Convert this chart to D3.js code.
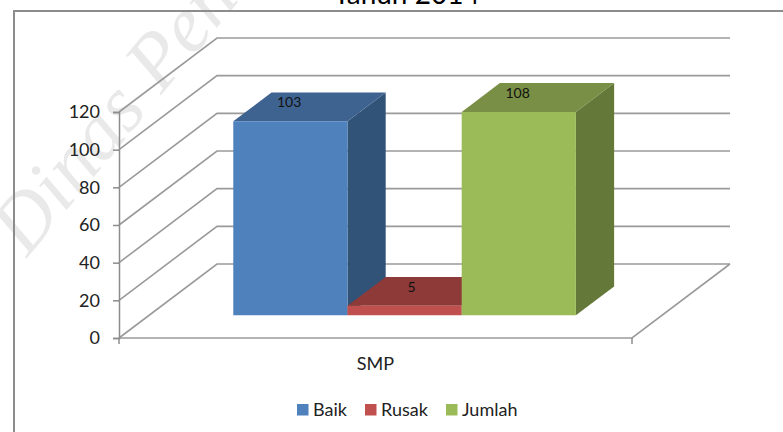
<!DOCTYPE html>
<meta charset="utf-8">
<script src="https://d3js.org/d3.v7.min.js"></script>
<style>
  html, body { margin: 0; padding: 0; background: #fff; overflow: hidden; }
  text { font-family: Lato, sans-serif; }
</style>
<body>
<div id="my_dataviz"></div>
<script>

// values
var categories = ["SMP"]
var series = ["Baik", "Rusak", "Jumlah"]
var values = [103, 5, 108]
var yTicks = [0, 20, 40, 60, 80, 100, 120]

var frontColors = ["#4f81bd", "#c0504d", "#9bbb59"]
var topColors = ["#3f6390", "#8e3a38", "#788f45"]
var sideColors = ["#325378", "#7a3230", "#64783a"]

var width = 783
var height = 432

var svg = d3.select("#my_dataviz")
  .append("svg")
    .attr("width", width)
    .attr("height", height)
    .style("display", "block")

// front edge of the floor
var y = d3.scaleLinear().domain([0, 120]).range([338, 112])
var x = d3.scaleBand().domain(series).range([118, 631]).paddingInner(0).paddingOuter(0.746)
var cat = d3.scaleBand().domain(categories).range([119, 632])

// depth: 0 = front of the floor, 1 = back wall
var depthX = d3.scaleLinear().domain([0, 1]).range([0, 98])
var depthY = d3.scaleLinear().domain([0, 1]).range([0, -74])
var barFront = 0.307
var barBack = 0.697

function pt(px, py, d) {
  return [px + depthX(d), py + depthY(d)]
}
function poly(points) {
  return "M" + points.map(function(p) { return p.join(",") }).join("L") + "Z"
}

// watermark behind the chart
svg.append("text")
  .attr("transform", "translate(27,258) rotate(-50.5)")
  .attr("font-size", 80)
  .attr("font-style", "italic")
  .style("font-family", "'Liberation Serif', serif")
  .attr("fill", "#e9e9e9")
  .text("Dinas Pendidikan")

// chart frame, runs off the right and bottom of the picture
svg.append("path")
  .attr("d", "M14,432V11H783")
  .attr("fill", "none")
  .attr("stroke", "#8c8c8c")
  .attr("stroke-width", 2)

// title is cut by the top of the picture
svg.append("text")
  .attr("x", 406.5)
  .attr("y", 4)
  .attr("text-anchor", "middle")
  .attr("font-size", 28)
  .attr("fill", "#000")
  .text("Tahun 2014")

// gridlines: along the wall, then down the side wall
var grid = svg.append("g")
grid.selectAll("path")
  .data(yTicks)
  .enter()
  .append("path")
    .attr("d", function(d) {
      var a = [119, y(d)]
      var b = pt(119, y(d), 1)
      var c = pt(632, y(d), 1)
      return "M" + a + "L" + b + "L" + c
    })
    .attr("fill", "none")
    .attr("stroke", "#9a9a9a")
    .attr("stroke-width", 1.6)

// floor: right edge and front edge
svg.append("path")
  .attr("d", "M" + pt(632, y(0), 1) + "L632," + y(0) + "L119," + y(0))
  .attr("fill", "none")
  .attr("stroke", "#9a9a9a")
  .attr("stroke-width", 1.6)

// value axis
var axis = svg.append("g").attr("transform", "translate(119,0)")
  .call(d3.axisLeft(y).tickValues(yTicks).tickSize(6).tickPadding(13))
axis.select(".domain").attr("stroke", "#8c8c8c").attr("stroke-width", 1.5)
axis.selectAll("line").attr("stroke", "#8c8c8c").attr("stroke-width", 1.5)
axis.selectAll("text")
  .attr("font-size", 18)
  .attr("fill", "#222")
  .style("font-family", "Lato, sans-serif")

// category axis ticks
svg.append("g")
  .selectAll("line")
  .data([119, 632])
  .enter()
  .append("line")
    .attr("x1", function(d) { return d })
    .attr("x2", function(d) { return d })
    .attr("y1", y(0))
    .attr("y2", y(0) + 6)
    .attr("stroke", "#8c8c8c")
    .attr("stroke-width", 1.5)

svg.append("text")
  .attr("x", cat("SMP") + cat.bandwidth() / 2)
  .attr("y", 370)
  .attr("text-anchor", "middle")
  .attr("font-size", 18)
  .attr("fill", "#222")
  .text(categories[0])

// bars, 3d boxes drawn left to right
var bars = svg.selectAll(".bar")
  .data(series.map(function(s, i) { return { name: s, value: values[i], i: i } }))
  .enter()
  .append("g")
    .attr("class", "bar")

function corners(d) {
  var x0 = x(d.name)
  var x1 = x0 + x.bandwidth()
  return { x0: x0, x1: x1, yb: y(0), yt: y(d.value) }
}

// side face
bars.append("path")
  .attr("d", function(d) {
    var c = corners(d)
    return poly([pt(c.x1, c.yb, barFront), pt(c.x1, c.yb, barBack), pt(c.x1, c.yt, barBack), pt(c.x1, c.yt, barFront)])
  })
  .attr("fill", function(d) { return sideColors[d.i] })

// top face
bars.append("path")
  .attr("d", function(d) {
    var c = corners(d)
    return poly([pt(c.x0, c.yt, barFront), pt(c.x1, c.yt, barFront), pt(c.x1, c.yt, barBack), pt(c.x0, c.yt, barBack)])
  })
  .attr("fill", function(d) { return topColors[d.i] })

// front face
bars.append("path")
  .attr("d", function(d) {
    var c = corners(d)
    return poly([pt(c.x0, c.yb, barFront), pt(c.x1, c.yb, barFront), pt(c.x1, c.yt, barFront), pt(c.x0, c.yt, barFront)])
  })
  .attr("fill", function(d) { return frontColors[d.i] })

// value labels sit on the top face
bars.append("text")
  .attr("x", function(d) { return corners(d).x0 + x.bandwidth() / 2 + depthX(barFront) + 11 })
  .attr("y", function(d) { return y(d.value) + depthY(barFront) - 14 })
  .attr("text-anchor", "end")
  .attr("font-size", 14)
  .attr("fill", "#111")
  .text(function(d) { return d.value })

// legend
var legendX = [297, 365, 446]
var legend = svg.selectAll(".legend")
  .data(series)
  .enter()
  .append("g")
    .attr("class", "legend")
    .attr("transform", function(d, i) { return "translate(" + legendX[i] + ",404)" })
legend.append("rect")
  .attr("width", 11.5)
  .attr("height", 11.5)
  .attr("fill", function(d, i) { return frontColors[i] })
legend.append("text")
  .attr("x", 16)
  .attr("y", 11.5)
  .attr("font-size", 18)
  .attr("fill", "#222")
  .text(function(d) { return d })

</script>
</body>
